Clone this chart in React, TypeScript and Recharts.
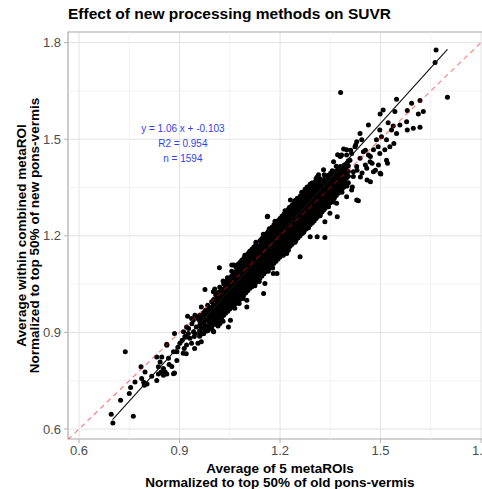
import { ScatterChart, Scatter, XAxis, YAxis, CartesianGrid, ReferenceLine, ReferenceArea } from 'recharts'

// axis ranges
const xDomain = [0.567, 1.833]
const yDomain = [0.569, 1.833]
const majorTicks = [0.6, 0.9, 1.2, 1.5, 1.8]
const minorTicks = [0.75, 1.05, 1.35, 1.65]

// the solid middle of the cloud, one column of y values per x
const coreColumns: [number, number[]][] = [
  [0.96, [0.888, 0.905, 0.921, 0.937, 0.953]],
  [0.972, [0.897, 0.914, 0.931, 0.946, 0.962]],
  [0.984, [0.905, 0.921, 0.938, 0.953, 0.968, 0.984]],
  [0.996, [0.917, 0.932, 0.949, 0.963, 0.979, 0.995]],
  [1.008, [0.929, 0.944, 0.958, 0.972, 0.986, 1.001, 1.016]],
  [1.02, [0.941, 0.956, 0.969, 0.983, 0.997, 1.011, 1.026, 1.04]],
  [1.032, [0.953, 0.967, 0.981, 0.995, 1.009, 1.022, 1.036, 1.05]],
  [1.044, [0.966, 0.979, 0.993, 1.007, 1.02, 1.034, 1.048, 1.062]],
  [1.056, [0.978, 0.992, 1.006, 1.02, 1.033, 1.047, 1.061, 1.075, 1.09]],
  [1.068, [0.99, 1.004, 1.019, 1.033, 1.047, 1.061, 1.075, 1.089, 1.104]],
  [1.08, [1.002, 1.017, 1.031, 1.046, 1.06, 1.074, 1.088, 1.103, 1.117]],
  [1.092, [1.016, 1.03, 1.045, 1.059, 1.073, 1.087, 1.101, 1.116, 1.13]],
  [1.104, [1.03, 1.044, 1.058, 1.072, 1.087, 1.101, 1.115, 1.13, 1.144]],
  [1.116, [1.042, 1.057, 1.071, 1.086, 1.1, 1.114, 1.129, 1.143, 1.158]],
  [1.128, [1.055, 1.07, 1.085, 1.1, 1.114, 1.128, 1.143, 1.157, 1.172]],
  [1.14, [1.068, 1.083, 1.098, 1.112, 1.127, 1.141, 1.156, 1.17, 1.185]],
  [1.152, [1.082, 1.097, 1.112, 1.126, 1.141, 1.155, 1.17, 1.184, 1.199]],
  [1.164, [1.095, 1.11, 1.125, 1.14, 1.155, 1.169, 1.184, 1.198, 1.213]],
  [1.176, [1.108, 1.123, 1.138, 1.153, 1.168, 1.183, 1.197, 1.212, 1.227]],
  [1.188, [1.121, 1.136, 1.151, 1.166, 1.181, 1.196, 1.211, 1.225, 1.24]],
  [1.2, [1.134, 1.149, 1.164, 1.18, 1.195, 1.21, 1.224, 1.239, 1.254]],
  [1.212, [1.148, 1.163, 1.178, 1.193, 1.208, 1.223, 1.238, 1.253, 1.268]],
  [1.224, [1.161, 1.176, 1.192, 1.207, 1.222, 1.237, 1.252, 1.267, 1.282]],
  [1.236, [1.174, 1.189, 1.205, 1.22, 1.235, 1.25, 1.265, 1.28, 1.295]],
  [1.248, [1.187, 1.203, 1.218, 1.234, 1.249, 1.264, 1.279, 1.294, 1.309]],
  [1.26, [1.2, 1.216, 1.232, 1.247, 1.263, 1.278, 1.293, 1.308, 1.323]],
  [1.272, [1.214, 1.23, 1.245, 1.261, 1.276, 1.292, 1.307, 1.322, 1.337]],
  [1.284, [1.227, 1.243, 1.258, 1.274, 1.29, 1.305, 1.32, 1.335, 1.35]],
  [1.296, [1.24, 1.256, 1.272, 1.288, 1.303, 1.319, 1.334, 1.349, 1.364]],
  [1.308, [1.254, 1.27, 1.286, 1.302, 1.317, 1.333, 1.348, 1.363, 1.378]],
  [1.32, [1.268, 1.284, 1.3, 1.316, 1.331, 1.347, 1.362, 1.377]],
  [1.332, [1.282, 1.298, 1.314, 1.33, 1.345, 1.36, 1.375, 1.39]],
  [1.344, [1.296, 1.312, 1.328, 1.343, 1.358, 1.373, 1.388]],
  [1.356, [1.31, 1.326, 1.342, 1.357, 1.372, 1.387, 1.402]],
  [1.368, [1.325, 1.341, 1.356, 1.371, 1.386, 1.401, 1.416]],
  [1.38, [1.34, 1.355, 1.37, 1.385, 1.4, 1.415]],
  [1.392, [1.355, 1.372, 1.39, 1.405, 1.42]],
  [1.404, [1.365, 1.385, 1.4, 1.418, 1.433]],
]

// more points packed in between the columns above, where the cloud is solid black
const coreFill: [number, number[]][] = [
  [0.966, [0.895, 0.912, 0.928, 0.944]],
  [0.978, [0.904, 0.921, 0.938, 0.953, 0.969]],
  [0.99, [0.912, 0.928, 0.945, 0.96, 0.975]],
  [1.002, [0.924, 0.939, 0.956, 0.97, 0.986, 1.002]],
  [1.014, [0.936, 0.951, 0.965, 0.979, 0.993, 1.008, 1.023]],
  [1.026, [0.948, 0.963, 0.976, 0.99, 1.004, 1.018, 1.033]],
  [1.038, [0.96, 0.974, 0.988, 1.002, 1.016, 1.029, 1.043, 1.057]],
  [1.05, [0.973, 0.986, 1.0, 1.014, 1.027, 1.041, 1.055, 1.069]],
  [1.062, [0.985, 0.999, 1.013, 1.027, 1.04, 1.054, 1.068, 1.082]],
  [1.074, [0.997, 1.011, 1.026, 1.04, 1.054, 1.068, 1.082, 1.096, 1.111]],
  [1.086, [1.009, 1.024, 1.038, 1.053, 1.067, 1.081, 1.095, 1.11, 1.124]],
  [1.098, [1.023, 1.037, 1.052, 1.066, 1.08, 1.094, 1.108, 1.123, 1.137]],
  [1.11, [1.037, 1.051, 1.065, 1.079, 1.094, 1.108, 1.122, 1.137, 1.151]],
  [1.122, [1.049, 1.064, 1.078, 1.093, 1.107, 1.121, 1.136, 1.15, 1.165]],
  [1.134, [1.062, 1.077, 1.092, 1.107, 1.121, 1.135, 1.15, 1.164]],
  [1.146, [1.075, 1.09, 1.105, 1.119, 1.134, 1.148, 1.163, 1.177, 1.192]],
  [1.158, [1.089, 1.104, 1.119, 1.133, 1.148, 1.162, 1.177, 1.191, 1.206]],
  [1.17, [1.102, 1.117, 1.132, 1.147, 1.162, 1.176, 1.191, 1.205, 1.22]],
  [1.182, [1.115, 1.13, 1.145, 1.16, 1.175, 1.19, 1.204, 1.219, 1.234]],
  [1.194, [1.128, 1.143, 1.158, 1.173, 1.188, 1.203, 1.218, 1.232, 1.247]],
  [1.206, [1.141, 1.156, 1.171, 1.187, 1.202, 1.217, 1.231, 1.246, 1.261]],
  [1.218, [1.155, 1.17, 1.185, 1.2, 1.215, 1.23, 1.245, 1.26, 1.275]],
  [1.23, [1.168, 1.183, 1.199, 1.214, 1.229, 1.244, 1.259, 1.274, 1.289]],
  [1.242, [1.181, 1.196, 1.212, 1.227, 1.242, 1.257, 1.272, 1.287, 1.302]],
  [1.254, [1.194, 1.21, 1.225, 1.241, 1.256, 1.271, 1.286, 1.301, 1.316]],
  [1.266, [1.207, 1.223, 1.239, 1.254, 1.27, 1.285, 1.3, 1.315, 1.33]],
  [1.278, [1.221, 1.237, 1.252, 1.268, 1.283, 1.299, 1.314, 1.329]],
  [1.29, [1.234, 1.25, 1.265, 1.281, 1.297, 1.312, 1.327, 1.342, 1.357]],
  [1.302, [1.247, 1.263, 1.279, 1.295, 1.31, 1.326, 1.341, 1.356]],
  [1.314, [1.261, 1.277, 1.293, 1.309, 1.324, 1.34, 1.355, 1.37]],
  [1.326, [1.275, 1.291, 1.307, 1.323, 1.338, 1.354, 1.369]],
  [1.338, [1.289, 1.305, 1.321, 1.337, 1.352, 1.367, 1.382]],
  [1.35, [1.303, 1.319, 1.335, 1.35, 1.365, 1.38]],
  [1.362, [1.317, 1.333, 1.349, 1.364, 1.379, 1.394]],
  [1.374, [1.332, 1.348, 1.363, 1.378, 1.393, 1.408]],
  [1.386, [1.347, 1.362, 1.377, 1.392, 1.407]],
  [1.398, [1.362, 1.379, 1.397, 1.412]],
]

// ragged points just outside the solid part, above and below it
const coreUpperFringe: [number, number][] = [
  [1.005, 1.035], [1.03, 1.06], [1.043, 1.07], [1.07, 1.108], [1.095, 1.14], [1.11, 1.152],
  [1.128, 1.18], [1.15, 1.205], [1.168, 1.222], [1.185, 1.245], [1.215, 1.278], [1.228, 1.288],
  [1.245, 1.31], [1.265, 1.335], [1.275, 1.345], [1.29, 1.36], [1.315, 1.39], [1.33, 1.405],
  [1.36, 1.43], [1.372, 1.452], [1.39, 1.47],
]
const coreLowerFringe: [number, number][] = [
  [1.0, 0.905], [1.015, 0.92], [1.03, 0.935], [1.065, 0.975], [1.078, 0.99], [1.09, 1.005],
  [1.125, 1.045], [1.138, 1.058], [1.165, 1.09], [1.178, 1.1], [1.21, 1.14], [1.225, 1.155],
  [1.245, 1.18], [1.27, 1.21], [1.285, 1.225], [1.3, 1.245], [1.32, 1.262], [1.345, 1.29],
  [1.36, 1.305], [1.385, 1.335], [1.4, 1.355], [1.445, 1.395], [1.455, 1.42],
]

// sparse low end of the cloud
const lowerTail: [number, number][] = [
  [0.701, 0.619], [0.696, 0.646], [0.762, 0.64], [0.724, 0.689], [0.738, 0.84], [0.75, 0.71],
  [0.754, 0.729], [0.767, 0.746], [0.785, 0.793], [0.787, 0.757], [0.797, 0.777], [0.795, 0.736],
  [0.793, 0.745], [0.803, 0.74], [0.817, 0.764], [0.832, 0.751], [0.837, 0.793], [0.842, 0.808],
  [0.847, 0.824], [0.852, 0.788], [0.857, 0.777], [0.862, 0.771], [0.852, 0.767], [0.845, 0.777],
  [0.837, 0.771], [0.862, 0.863], [0.867, 0.82], [0.869, 0.8], [0.877, 0.794], [0.885, 0.774],
  [0.882, 0.84], [0.892, 0.84], [0.895, 0.854], [0.901, 0.866], [0.885, 0.897], [0.908, 0.876],
  [0.914, 0.85], [0.921, 0.861], [0.916, 0.887], [0.926, 0.897], [0.921, 0.917], [0.936, 0.866],
  [0.911, 0.835], [0.924, 0.95], [0.946, 0.953], [0.936, 0.943], [0.955, 0.943], [0.95, 0.917],
  [0.946, 0.897], [0.96, 0.897], [0.965, 0.871], [0.955, 0.866], [0.965, 0.979], [0.973, 0.958],
  [0.944, 0.887], [0.931, 0.882], [0.945, 0.85], [0.892, 0.813], [0.882, 0.772], [0.862, 0.86],
  [0.942, 0.902], [0.962, 0.927], [0.987, 0.912], [0.952, 0.948], [0.937, 0.927], [0.927, 0.912],
  [0.912, 0.902], [0.922, 0.886], [0.832, 0.824], [0.92, 0.834],
]

// loose points along both edges of the band
const bandEdge: [number, number][] = [
  [1.019, 1.101], [0.976, 1.033], [1.001, 1.026], [1.056, 1.109], [1.081, 1.114], [1.101, 1.0],
  [1.115, 1.145], [1.046, 0.917], [1.021, 0.928], [0.971, 0.897], [0.941, 0.938], [1.14, 1.161],
  [1.175, 1.207], [1.2, 1.187], [1.195, 1.244], [1.22, 1.145], [1.155, 1.052], [1.18, 1.083],
  [1.162, 1.259], [1.205, 1.254], [1.21, 1.244], [1.24, 1.28], [1.295, 1.363], [1.305, 1.368],
  [1.38, 1.446], [1.399, 1.451], [1.429, 1.311], [1.334, 1.195], [1.29, 1.197], [1.26, 1.135],
  [1.334, 1.244], [1.349, 1.27], [1.369, 1.301], [1.399, 1.321], [1.414, 1.342], [1.419, 1.384],
  [1.062, 1.109], [1.087, 1.124], [1.116, 1.153], [1.146, 1.184], [1.201, 1.244], [1.231, 1.311],
  [1.251, 1.316], [1.281, 1.352], [1.311, 1.383], [1.351, 1.394], [1.381, 1.448],
  [1.002, 0.902], [1.052, 0.938], [1.101, 0.979], [1.151, 1.021], [1.191, 1.083], [1.311, 1.197],
  [1.371, 1.259], [1.434, 1.309], [1.47, 1.368], [1.501, 1.392], [1.521, 1.425],
]

// sparse high end of the cloud
const upperTail: [number, number][] = [
  [1.548, 1.624], [1.593, 1.612], [1.618, 1.62], [1.628, 1.586], [1.613, 1.578], [1.58, 1.589],
  [1.543, 1.586], [1.508, 1.591], [1.499, 1.578], [1.578, 1.554], [1.558, 1.544], [1.538, 1.541],
  [1.523, 1.551], [1.533, 1.529], [1.598, 1.534], [1.618, 1.537], [1.548, 1.518], [1.464, 1.544],
  [1.498, 1.529], [1.503, 1.508], [1.518, 1.498], [1.488, 1.498], [1.439, 1.518], [1.444, 1.498],
  [1.429, 1.492], [1.528, 1.477], [1.513, 1.467], [1.498, 1.456], [1.493, 1.477], [1.479, 1.467],
  [1.464, 1.451], [1.449, 1.461], [1.424, 1.477], [1.414, 1.456], [1.399, 1.467], [1.384, 1.451],
  [1.409, 1.435], [1.439, 1.441], [1.469, 1.43], [1.494, 1.42], [1.518, 1.435], [1.479, 1.399],
  [1.499, 1.394], [1.459, 1.41], [1.429, 1.415], [1.389, 1.415], [1.369, 1.394], [1.359, 1.384],
  [1.419, 1.399], [1.43, 1.404], [1.44, 1.383], [1.46, 1.373], [1.475, 1.425], [1.485, 1.404],
  [1.47, 1.446], [1.455, 1.466], [1.411, 1.466], [1.426, 1.482], [1.4, 1.425], [1.416, 1.352],
  [1.391, 1.352], [1.54, 1.487], [1.58, 1.529],
]

const outliers: [number, number][] = [
  [1.666, 1.777], [1.663, 1.738], [1.7, 1.63], [1.381, 1.645], [1.163, 1.261],
]

// identity line and the drawn regression line (end points)
const identityLine = [{ x: 0.567, y: 0.567 }, { x: 1.833, y: 1.833 }]
const fitLine = [{ x: 0.7, y: 0.629 }, { x: 1.7, y: 1.779 }]

const statsLines = ['y = 1.06 x + -0.103', 'R2 = 0.954', 'n = 1594']
const statsAnchor = [{ x: 0.91, y: 1.485 }]

const fromColumns = (cols: [number, number[]][]) => cols.flatMap(([x, ys]) => ys.map((y) => ({ x, y })))
const fromPairs = (pairs: [number, number][]) => pairs.map(([x, y]) => ({ x, y }))

const points = [
  ...fromColumns(coreColumns),
  ...fromColumns(coreFill),
  ...fromPairs(coreUpperFringe),
  ...fromPairs(coreLowerFringe),
  ...fromPairs(lowerTail),
  ...fromPairs(bandEdge),
  ...fromPairs(upperTail),
  ...fromPairs(outliers),
]

const FONT = '"Liberation Sans", Arial, Helvetica, sans-serif'

const Dot = (p: any) => <circle cx={p.cx} cy={p.cy} r={2.5} fill="#000" />
const NoDot = () => <g />

const StatsText = (p: any) => (
  <text x={p.cx} textAnchor="middle" fill="#2f3ff0" fontSize={10} fontFamily={FONT}>
    {statsLines.map((s, i) => (
      <tspan key={i} x={p.cx} y={p.cy - 11.7 + i * 15}>{s}</tspan>
    ))}
  </text>
)

const XTitle = (props: any) => {
  const vb = props.viewBox || { x: 68, y: 439, width: 424 }
  const cx = vb.x + vb.width / 2
  return (
    <text textAnchor="middle" fontSize={13.5} fontWeight="bold" fill="#000" fontFamily={FONT}>
      <tspan x={cx} y={vb.y + 34}>Average of 5 metaROIs</tspan>
      <tspan x={cx} y={vb.y + 47.5}>Normalized to top 50% of old pons-vermis</tspan>
    </text>
  )
}

const YTitle = (props: any) => {
  const vb = props.viewBox || { x: 0, y: 32, height: 407 }
  const cy = vb.y + vb.height / 2
  return (
    <g transform={`translate(0, ${cy}) rotate(-90)`}>
      <text textAnchor="middle" fontSize={13.5} fontWeight="bold" fill="#000" fontFamily={FONT}>
        <tspan x={0} y={25.7}>Average within combined metaROI</tspan>
        <tspan x={0} y={39}>Normalized to top 50% of new pons-vermis</tspan>
      </text>
    </g>
  )
}

export default function App() {
  return (
    <div style={{ position: 'absolute', left: 0, top: 0, width: 482, height: 489, overflow: 'hidden', background: '#fff' }}>
      <div style={{ position: 'absolute', left: 68, top: 5, fontFamily: FONT, fontWeight: 'bold', fontSize: 15.5, color: '#000', whiteSpace: 'nowrap' }}>
        Effect of new processing methods on SUVR
      </div>
      <ScatterChart width={500} height={489} margin={{ top: 32, right: 8, bottom: 0, left: 0 }}>
        <CartesianGrid stroke="#e2e2e2" />
        {minorTicks.map((v) => (
          <ReferenceLine key={'mx' + v} x={v} stroke="#efefef" strokeWidth={0.8} />
        ))}
        {minorTicks.map((v) => (
          <ReferenceLine key={'my' + v} y={v} stroke="#efefef" strokeWidth={0.8} />
        ))}
        <XAxis
          type="number"
          dataKey="x"
          domain={xDomain}
          ticks={majorTicks}
          allowDataOverflow
          height={50}
          tickFormatter={(v) => v.toFixed(1)}
          tick={{ fill: '#4d4d4d', fontSize: 13, fontFamily: FONT }}
          tickLine={{ stroke: '#b3b3b3' }}
          tickSize={4}
          tickMargin={3}
          axisLine={false}
          label={{ content: XTitle }}
        />
        <YAxis
          type="number"
          dataKey="y"
          domain={yDomain}
          ticks={majorTicks}
          allowDataOverflow
          width={68}
          tickFormatter={(v) => v.toFixed(1)}
          tick={{ fill: '#4d4d4d', fontSize: 13, fontFamily: FONT }}
          tickLine={{ stroke: '#b3b3b3' }}
          tickSize={4}
          tickMargin={3}
          axisLine={false}
          label={{ content: YTitle }}
        />
        <ReferenceArea x1={xDomain[0]} x2={xDomain[1]} y1={yDomain[0]} y2={yDomain[1]} fill="none" stroke="#b3b3b3" strokeWidth={1.2} />
        <Scatter data={points} shape={Dot} isAnimationActive={false} />
        <Scatter data={fitLine} shape={NoDot} line={{ stroke: '#111', strokeWidth: 1.1 }} isAnimationActive={false} />
        <Scatter
          data={identityLine}
          shape={NoDot}
          line={{ stroke: '#ff0000', strokeOpacity: 0.5, strokeWidth: 1.2, strokeDasharray: '5 4' }}
          isAnimationActive={false}
        />
        <Scatter data={statsAnchor} shape={StatsText} isAnimationActive={false} />
      </ScatterChart>
    </div>
  )
}
